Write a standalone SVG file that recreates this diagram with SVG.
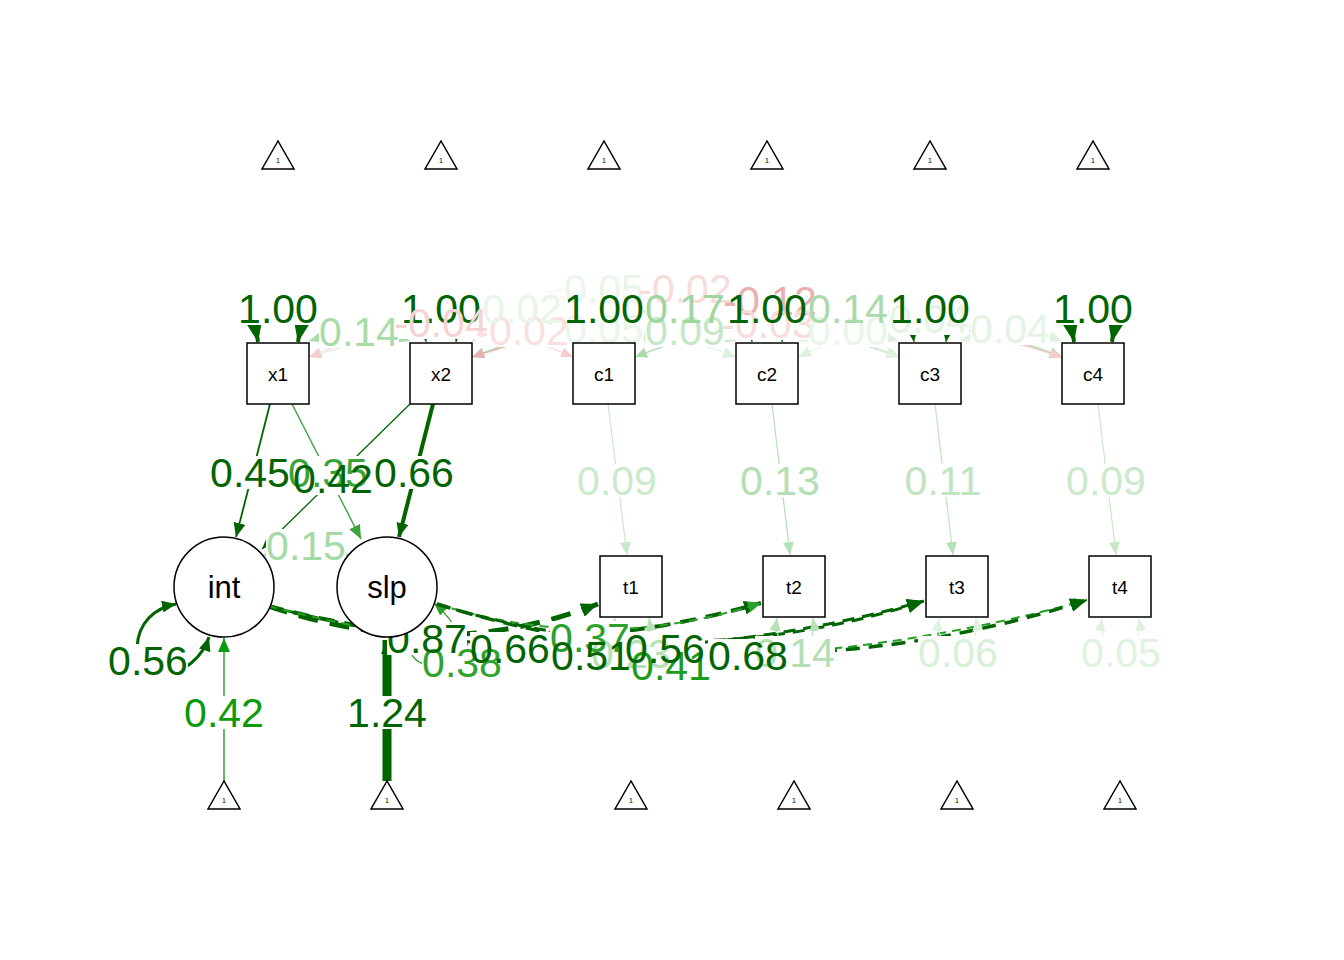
<svg xmlns="http://www.w3.org/2000/svg" width="1344" height="960" viewBox="0 0 1344 960">
<style>
text{font-family:"Liberation Sans",Arial,Helvetica,sans-serif;text-anchor:middle}
.lb{font-size:41px}
.bg{fill:#fff}
.nd{fill:#fff;stroke:#000;stroke-width:1.5}
.nl{font-size:19px;fill:#000}
.cl{font-size:31px;fill:#000}
.tl{font-size:7px;fill:#000}
.e{fill:none}
</style>
<defs>
<marker id="aDG" markerUnits="userSpaceOnUse" markerWidth="14" markerHeight="12" refX="14" refY="6" orient="auto-start-reverse"><path d="M0,0L14,6L0,12z" fill="#006400"/></marker>
<marker id="aDGm" markerUnits="userSpaceOnUse" markerWidth="17" markerHeight="14" refX="17" refY="7" orient="auto-start-reverse"><path d="M0,0L17,7L0,14z" fill="#006400"/></marker>
<marker id="aDGb" markerUnits="userSpaceOnUse" markerWidth="20" markerHeight="16" refX="20" refY="8" orient="auto-start-reverse"><path d="M0,0L20,8L0,16z" fill="#006400"/></marker>
<marker id="aDGs" markerUnits="userSpaceOnUse" markerWidth="8" markerHeight="7" refX="8" refY="3.5" orient="auto-start-reverse"><path d="M0,0L8,3.5L0,7z" fill="#006400"/></marker>
<marker id="aMG" markerUnits="userSpaceOnUse" markerWidth="14" markerHeight="12" refX="14" refY="6" orient="auto-start-reverse"><path d="M0,0L14,6L0,12z" fill="#3aa43a"/></marker>
<marker id="aBG" markerUnits="userSpaceOnUse" markerWidth="14" markerHeight="12" refX="14" refY="6" orient="auto-start-reverse"><path d="M0,0L14,6L0,12z" fill="#0a9a0a"/></marker>
<marker id="aMG2" markerUnits="userSpaceOnUse" markerWidth="13" markerHeight="11" refX="13" refY="5.5" orient="auto-start-reverse"><path d="M0,0L13,5.5L0,11z" fill="#2ca02c"/></marker>
<marker id="aL1" markerUnits="userSpaceOnUse" markerWidth="12" markerHeight="10" refX="12" refY="5" orient="auto-start-reverse"><path d="M0,0L12,5L0,10z" fill="#a9dba9"/></marker>
<marker id="aL2" markerUnits="userSpaceOnUse" markerWidth="13" markerHeight="11" refX="13" refY="5.5" orient="auto-start-reverse"><path d="M0,0L13,5.5L0,11z" fill="#c8e8c8"/></marker>
<marker id="aL3" markerUnits="userSpaceOnUse" markerWidth="13" markerHeight="11" refX="13" refY="5.5" orient="auto-start-reverse"><path d="M0,0L13,5.5L0,11z" fill="#b5e0b5"/></marker>
<marker id="aL4" markerUnits="userSpaceOnUse" markerWidth="13" markerHeight="11" refX="13" refY="5.5" orient="auto-start-reverse"><path d="M0,0L13,5.5L0,11z" fill="#dff1df"/></marker>
<marker id="aP1" markerUnits="userSpaceOnUse" markerWidth="12" markerHeight="10" refX="12" refY="5" orient="auto-start-reverse"><path d="M0,0L12,5L0,10z" fill="#f3cccc"/></marker>
<marker id="aP2" markerUnits="userSpaceOnUse" markerWidth="12" markerHeight="10" refX="12" refY="5" orient="auto-start-reverse"><path d="M0,0L12,5L0,10z" fill="#eab0b0"/></marker>
</defs>
<rect width="1344" height="960" fill="#fff"/>
<g id="connectors">
<g id="edges" class="e">
<path d="M309,341C349,329 370,329 410,341" stroke="#a9dba9" stroke-width="1.2" marker-start="url(#aL1)" marker-end="url(#aL1)"/>
<path d="M472,341C512,329 533,329 573,341" stroke="#f8e0e0" stroke-width="1" marker-start="url(#aP1)" marker-end="url(#aP1)"/>
<path d="M635,341C675,329 696,329 736,341" stroke="#c5e7c5" stroke-width="1.2" marker-start="url(#aL2)" marker-end="url(#aL2)"/>
<path d="M798,341C838,329 859,329 899,341" stroke="#e6f4e6" stroke-width="1" marker-start="url(#aL4)" marker-end="url(#aL4)"/>
<path d="M961,341C1001,327 1022,327 1062,341" stroke="#e4f4e4" stroke-width="1" marker-start="url(#aL4)" marker-end="url(#aL4)"/>
<path d="M309,357C415,312 467,312 573,357" stroke="#f5d3d3" stroke-width="1" marker-start="url(#aP1)" marker-end="url(#aP1)"/>
<path d="M472,357C578,320 630,320 736,357" stroke="#eef8ee" stroke-width="1" marker-start="url(#aL4)" marker-end="url(#aL4)"/>
<path d="M635,357C741,313 793,313 899,357" stroke="#f7dcdc" stroke-width="1" marker-start="url(#aP1)" marker-end="url(#aP1)"/>
<path d="M798,357C904,309 956,309 1062,357" stroke="#e4f4e4" stroke-width="1" marker-start="url(#aL4)" marker-end="url(#aL4)"/>
<path d="M309,357C480,293 565,293 736,357" stroke="#e8f5e8" stroke-width="1" marker-start="url(#aL4)" marker-end="url(#aL4)"/>
<path d="M472,357C643,293 728,293 899,357" stroke="#9fd59f" stroke-width="1.3" marker-start="url(#aL1)" marker-end="url(#aL1)"/>
<path d="M635,357C806,293 891,293 1062,357" stroke="#a9dba9" stroke-width="1.2" marker-start="url(#aL1)" marker-end="url(#aL1)"/>
<path d="M309,357C545,266 663,266 899,357" stroke="#eef8ee" stroke-width="1" marker-start="url(#aL4)" marker-end="url(#aL4)"/>
<path d="M472,357C708,282 826,282 1062,357" stroke="#eab0b0" stroke-width="1.2" marker-start="url(#aP2)" marker-end="url(#aP2)"/>
<path d="M309,357C610,266 760,266 1062,357" stroke="#f8dcdc" stroke-width="1" marker-start="url(#aP1)" marker-end="url(#aP1)"/>
<path d="M258,342C248,290 308,290 298,342" stroke="#006400" stroke-width="4" marker-start="url(#aDGb)" marker-end="url(#aDGb)"/>
<path d="M426,342C420,300 462,300 456,342" stroke="#006400" stroke-width="1" marker-start="url(#aDGs)" marker-end="url(#aDGs)"/>
<path d="M589,342C583,300 625,300 619,342" stroke="#006400" stroke-width="1" marker-start="url(#aDGs)" marker-end="url(#aDGs)"/>
<path d="M752,342C746,300 788,300 782,342" stroke="#006400" stroke-width="1" marker-start="url(#aDGs)" marker-end="url(#aDGs)"/>
<path d="M914,342C908,300 952,300 946,342" stroke="#006400" stroke-width="1" marker-start="url(#aDGs)" marker-end="url(#aDGs)"/>
<path d="M1074,342C1064,290 1122,290 1112,342" stroke="#006400" stroke-width="4" marker-start="url(#aDGb)" marker-end="url(#aDGb)"/>
<path d="M270,404L236,537" stroke="#006400" stroke-width="1.8" marker-end="url(#aDG)"/>
<path d="M292,404L361,539" stroke="#3aa43a" stroke-width="1.4" marker-end="url(#aMG)"/>
<path d="M410,404L262,549" stroke="#006400" stroke-width="1.3" marker-end="url(#aDG)"/>
<path d="M433,404L399,537" stroke="#006400" stroke-width="4" marker-end="url(#aDG)"/>
<path d="M608,404L627,555" stroke="#c8e8c8" stroke-width="1.2" marker-end="url(#aL2)"/>
<path d="M772,404L790,555" stroke="#b5e0b5" stroke-width="1.2" marker-end="url(#aL3)"/>
<path d="M935,404L953,555" stroke="#bfe4bf" stroke-width="1.2" marker-end="url(#aL3)"/>
<path d="M1098,404L1116,555" stroke="#c8e8c8" stroke-width="1.2" marker-end="url(#aL2)"/>
<path d="M224,781L224,638" stroke="#0a9a0a" stroke-width="1.3" marker-end="url(#aBG)"/>
<path d="M387,781L387,640" stroke="#006400" stroke-width="9" marker-end="url(#aDG)"/>
<path d="M209,637C195,680 135,690 137,648C138,622 155,608 176,604" stroke="#006400" stroke-width="3" marker-start="url(#aDG)" marker-end="url(#aDG)"/>
<path d="M410,636C400,690 505,665 434,603" stroke="#2ca02c" stroke-width="1.2" marker-start="url(#aMG2)" marker-end="url(#aMG2)"/>
<path d="M263,556Q306,530 349,556" stroke="#a5d9a5" stroke-width="1.2" marker-start="url(#aL1)" marker-end="url(#aL1)"/>
<path d="M268,606Q440,665 598,604" stroke="#006400" stroke-width="5" stroke-dasharray="20 12" marker-end="url(#aDGm)"/>
<path d="M268,606Q520,672 761,603" stroke="#006400" stroke-width="4" stroke-dasharray="16 10" marker-end="url(#aDGm)"/>
<path d="M268,606Q600,692 924,601" stroke="#006400" stroke-width="3" stroke-dasharray="12 8" marker-end="url(#aDGm)"/>
<path d="M268,606Q680,712 1087,600" stroke="#22a022" stroke-width="2" stroke-dasharray="9 6" marker-end="url(#aMG2)"/>
<path d="M437,604Q600,655 761,603" stroke="#2ca02c" stroke-width="2" stroke-dasharray="9 6" marker-end="url(#aMG2)"/>
<path d="M437,604Q680,680 924,601" stroke="#006400" stroke-width="3" stroke-dasharray="12 8" marker-end="url(#aDGm)"/>
<path d="M437,604Q760,705 1087,600" stroke="#006400" stroke-width="3.5" stroke-dasharray="14 9" marker-end="url(#aDGm)"/>
<path d="M615,618C609,660 655,660 649,618" stroke="#b5e0b5" stroke-width="1.2" marker-start="url(#aL3)" marker-end="url(#aL3)"/>
<path d="M777,618C771,660 819,660 813,618" stroke="#b8e2b8" stroke-width="1.2" marker-start="url(#aL3)" marker-end="url(#aL3)"/>
<path d="M939,618C933,660 982,660 976,618" stroke="#d8efd8" stroke-width="1.2" marker-start="url(#aL4)" marker-end="url(#aL4)"/>
<path d="M1102,618C1096,660 1145,660 1139,618" stroke="#e0f2e0" stroke-width="1.2" marker-start="url(#aL4)" marker-end="url(#aL4)"/>
</g>
<g id="label-bg" class="bg">
<rect x="238" y="292" width="80" height="33"/><rect x="401" y="292" width="80" height="33"/><rect x="564" y="292" width="80" height="33"/><rect x="727" y="292" width="80" height="33"/><rect x="890" y="292" width="80" height="33"/><rect x="1053" y="292" width="80" height="33"/>
<rect x="319" y="315" width="80" height="33"/><rect x="394" y="306" width="94" height="33"/><rect x="475" y="314" width="94" height="33"/><rect x="482" y="292" width="80" height="33"/><rect x="564" y="272" width="80" height="33"/><rect x="564" y="312" width="80" height="33"/><rect x="638" y="272" width="94" height="33"/><rect x="645" y="292" width="80" height="33"/><rect x="645" y="314" width="80" height="33"/><rect x="723" y="284" width="94" height="33"/><rect x="721" y="307" width="94" height="33"/><rect x="808" y="292" width="80" height="33"/><rect x="808" y="314" width="80" height="33"/><rect x="889" y="302" width="80" height="33"/><rect x="970" y="312" width="80" height="33"/>
<rect x="210" y="456" width="80" height="33"/><rect x="288" y="456" width="80" height="33"/><rect x="293" y="462" width="80" height="33"/><rect x="374" y="456" width="80" height="33"/><rect x="266" y="529" width="80" height="33"/>
<rect x="577" y="464" width="80" height="33"/><rect x="740" y="464" width="80" height="33"/><rect x="903" y="464" width="80" height="33"/><rect x="1066" y="464" width="80" height="33"/>
<rect x="108" y="644" width="80" height="33"/><rect x="184" y="696" width="80" height="33"/><rect x="347" y="696" width="80" height="33"/>
<rect x="387" y="622" width="80" height="33"/><rect x="422" y="646" width="80" height="33"/><rect x="470" y="632" width="80" height="33"/><rect x="550" y="621" width="80" height="33"/><rect x="551" y="639" width="80" height="33"/><rect x="591" y="637" width="80" height="33"/><rect x="625" y="632" width="80" height="33"/><rect x="631" y="649" width="80" height="33"/><rect x="708" y="639" width="80" height="33"/><rect x="755" y="636" width="80" height="33"/><rect x="918" y="636" width="80" height="33"/><rect x="1081" y="636" width="80" height="33"/>
</g>
<g id="edge-labels" class="lb">
<text x="278" y="323" fill="#006400">1.00</text>
<text x="441" y="323" fill="#006400">1.00</text>
<text x="359" y="346" fill="#a9dba9">0.14</text>
<text x="441" y="337" fill="#f5d3d3">-0.04</text>
<text x="522" y="345" fill="#f8e0e0">-0.02</text>
<text x="522" y="323" fill="#e8f5e8">0.02</text>
<text x="604" y="303" fill="#eaf6ea">0.05</text>
<text x="604" y="343" fill="#eaf6ea">0.05</text>
<text x="604" y="323" fill="#006400">1.00</text>
<text x="685" y="303" fill="#f8dcdc">-0.02</text>
<text x="685" y="345" fill="#c5e7c5">0.09</text>
<text x="685" y="323" fill="#9fd59f">0.17</text>
<text x="770" y="315" fill="#eab0b0">-0.12</text>
<text x="768" y="338" fill="#f7dcdc">-0.03</text>
<text x="767" y="323" fill="#006400">1.00</text>
<text x="848" y="345" fill="#eaf6ea">0.00</text>
<text x="848" y="323" fill="#a9dba9">0.14</text>
<text x="929" y="333" fill="#e4f4e4">0.04</text>
<text x="930" y="323" fill="#006400">1.00</text>
<text x="1010" y="343" fill="#e4f4e4">0.04</text>
<text x="1093" y="323" fill="#006400">1.00</text>
<text x="250" y="487" fill="#006400">0.45</text>
<text x="328" y="487" fill="#3aa43a">0.35</text>
<text x="333" y="493" fill="#006400">0.42</text>
<text x="414" y="487" fill="#006400">0.66</text>
<text x="306" y="560" fill="#a5d9a5">0.15</text>
<text x="617" y="495" fill="#cbeacb">0.09</text>
<text x="780" y="495" fill="#b3dfb3">0.13</text>
<text x="943" y="495" fill="#bfe4bf">0.11</text>
<text x="1106" y="495" fill="#cbeacb">0.09</text>
<text x="148" y="675" fill="#006400">0.56</text>
<text x="224" y="727" fill="#0a9a0a">0.42</text>
<text x="387" y="727" fill="#006400">1.24</text>
<text x="631" y="668" fill="#b5e0b5">0.23</text>
<text x="795" y="667" fill="#b3dfb3">0.14</text>
<text x="958" y="667" fill="#d8efd8">0.06</text>
<text x="1121" y="667" fill="#e0f2e0">0.05</text>
<text x="462" y="677" fill="#2ea32e">0.38</text>
<text x="590" y="652" fill="#2ca02c">0.37</text>
<text x="671" y="680" fill="#1c9c1c">0.41</text>
<text x="427" y="653" fill="#006400">0.87</text>
<text x="510" y="663" fill="#006400">0.66</text>
<text x="591" y="670" fill="#006400">0.51</text>
<text x="665" y="663" fill="#006400">0.56</text>
<text x="748" y="670" fill="#006400">0.68</text>
</g>
</g>
<g id="tri-x1"><polygon class="nd" points="278,141 262,169 294,169"/><text class="tl" x="278" y="163">1</text></g>
<g id="tri-x2"><polygon class="nd" points="441,141 425,169 457,169"/><text class="tl" x="441" y="163">1</text></g>
<g id="tri-c1"><polygon class="nd" points="604,141 588,169 620,169"/><text class="tl" x="604" y="163">1</text></g>
<g id="tri-c2"><polygon class="nd" points="767,141 751,169 783,169"/><text class="tl" x="767" y="163">1</text></g>
<g id="tri-c3"><polygon class="nd" points="930,141 914,169 946,169"/><text class="tl" x="930" y="163">1</text></g>
<g id="tri-c4"><polygon class="nd" points="1093,141 1077,169 1109,169"/><text class="tl" x="1093" y="163">1</text></g>
<g id="x1"><rect class="nd" x="247" y="343" width="62" height="61"/><text class="nl" x="278" y="381">x1</text></g>
<g id="x2"><rect class="nd" x="410" y="343" width="62" height="61"/><text class="nl" x="441" y="381">x2</text></g>
<g id="c1"><rect class="nd" x="573" y="343" width="62" height="61"/><text class="nl" x="604" y="381">c1</text></g>
<g id="c2"><rect class="nd" x="736" y="343" width="62" height="61"/><text class="nl" x="767" y="381">c2</text></g>
<g id="c3"><rect class="nd" x="899" y="343" width="62" height="61"/><text class="nl" x="930" y="381">c3</text></g>
<g id="c4"><rect class="nd" x="1062" y="343" width="62" height="61"/><text class="nl" x="1093" y="381">c4</text></g>
<g id="int"><circle class="nd" cx="224" cy="587" r="50"/><text class="cl" x="224" y="598">int</text></g>
<g id="slp"><circle class="nd" cx="387" cy="587" r="50"/><text class="cl" x="387" y="598">slp</text></g>
<g id="t1"><rect class="nd" x="600" y="556" width="62" height="61"/><text class="nl" x="631" y="594">t1</text></g>
<g id="t2"><rect class="nd" x="763" y="556" width="62" height="61"/><text class="nl" x="794" y="594">t2</text></g>
<g id="t3"><rect class="nd" x="926" y="556" width="62" height="61"/><text class="nl" x="957" y="594">t3</text></g>
<g id="t4"><rect class="nd" x="1089" y="556" width="62" height="61"/><text class="nl" x="1120" y="594">t4</text></g>
<g id="tri-int"><polygon class="nd" points="224,781 208,809 240,809"/><text class="tl" x="224" y="803">1</text></g>
<g id="tri-slp"><polygon class="nd" points="387,781 371,809 403,809"/><text class="tl" x="387" y="803">1</text></g>
<g id="tri-t1"><polygon class="nd" points="631,781 615,809 647,809"/><text class="tl" x="631" y="803">1</text></g>
<g id="tri-t2"><polygon class="nd" points="794,781 778,809 810,809"/><text class="tl" x="794" y="803">1</text></g>
<g id="tri-t3"><polygon class="nd" points="957,781 941,809 973,809"/><text class="tl" x="957" y="803">1</text></g>
<g id="tri-t4"><polygon class="nd" points="1120,781 1104,809 1136,809"/><text class="tl" x="1120" y="803">1</text></g>
</svg>
